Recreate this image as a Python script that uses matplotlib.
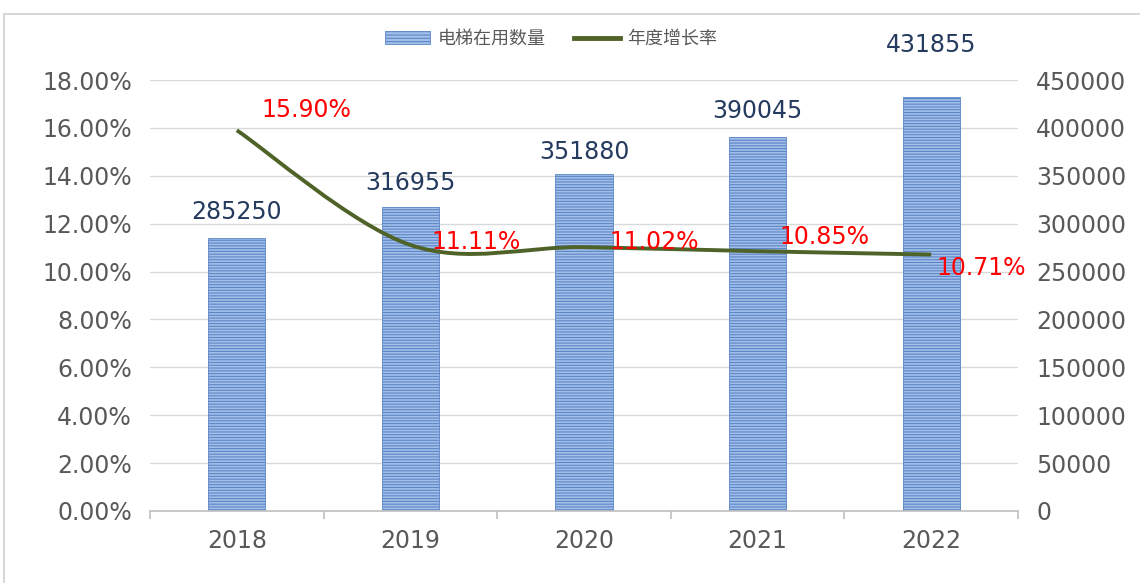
import matplotlib.pyplot as plt
import matplotlib.patches as mpatches
from matplotlib.lines import Line2D
from matplotlib.path import Path
import numpy as np

plt.rcParams['font.family'] = ['DejaVu Sans', 'Noto Sans CJK SC']
plt.rcParams['hatch.linewidth'] = 0.8

years = ['2018', '2019', '2020', '2021', '2022']
elevators = [285250, 316955, 351880, 390045, 431855]
growth = [15.90, 11.11, 11.02, 10.85, 10.71]
growth_labels = ['15.90%', '11.11%', '11.02%', '10.85%', '10.71%']
label_offsets = [(0.144, 0.85), (0.123, 0.12), (0.149, 0.21), (0.128, 0.59), (0.032, -0.56)]
bar_label_gap = [26, 24, 22, 26, 52]   # pixels above the bar top

fig = plt.figure(figsize=(11.4, 5.83), dpi=100)
fig.patches.append(mpatches.Rectangle((4 / 1140, -0.01), 1.1, 1 - 14 / 583 + 0.01,
                                      transform=fig.transFigure, fill=False,
                                      edgecolor='#d0d0d0', linewidth=1.2))
ax = fig.add_axes([150 / 1140, 1 - 511 / 583, (1018 - 150) / 1140, (511 - 80) / 583])
ax2 = ax.twinx()

x = np.arange(len(years))
ax2.bar(x, elevators, width=0.33, facecolor='#a3bfe9', edgecolor='#5b86c6',
        hatch='------', linewidth=0.6, zorder=2)
for xi, v, gap in zip(x, elevators, bar_label_gap):
    ax2.annotate(str(v), (xi, v), xytext=(0, gap), textcoords='offset pixels',
                 ha='center', va='center', fontsize=17, color='#243a5e')

# smooth line (Catmull-Rom style bezier, like spreadsheet smoothing)
pts = np.column_stack([x, growth]).astype(float)
verts = [pts[0]]
codes = [Path.MOVETO]
t = 1 / 6
for i in range(len(pts) - 1):
    p0 = pts[i - 1] if i > 0 else pts[i]
    p1 = pts[i]
    p2 = pts[i + 1]
    p3 = pts[i + 2] if i + 2 < len(pts) else pts[i + 1]
    c1 = p1 + (p2 - p0) * t
    c2 = p2 - (p3 - p1) * t
    verts += [c1, c2, p2]
    codes += [Path.CURVE4] * 3
ax.add_patch(mpatches.PathPatch(Path(verts, codes), fill=False, edgecolor='#4f6228',
                                linewidth=2.8, zorder=5))
ax.set_zorder(ax2.get_zorder() + 1)
ax.patch.set_visible(False)
for xi, g, lab, (dx, dy) in zip(x, growth, growth_labels, label_offsets):
    ax.text(xi + dx, g + dy, lab, ha='left', va='center', fontsize=17, color='#ff0000', zorder=6)

ax.set_xlim(-0.5, 4.5)
ax.set_ylim(0, 18)
ax2.set_ylim(0, 450000)
ax.set_yticks(np.arange(0, 18.1, 2))
ax.set_yticklabels([f'{v:.2f}%' for v in np.arange(0, 18.1, 2)])
ax2.set_yticks(np.arange(0, 450001, 50000))
ax2.set_yticklabels([str(v) for v in range(0, 450001, 50000)])
ax.set_xticks(x)
ax.set_xticklabels(years)
ax.set_xticks(np.arange(-0.5, 4.6, 1), minor=True)

ax2.grid(False)
for v in np.arange(2, 18.1, 2):
    ax2.axhline(v * 25000, color='#d9d9d9', linewidth=1, zorder=0)

for a in (ax, ax2):
    for s in ('top', 'left', 'right'):
        a.spines[s].set_visible(False)
    a.tick_params(axis='y', length=0, labelsize=17, labelcolor='#595959', pad=13)
ax2.spines['bottom'].set_visible(False)
ax.spines['bottom'].set_color('#bfbfbf')
ax.spines['bottom'].set_linewidth(1.2)
ax.tick_params(axis='x', which='major', length=0, labelsize=17, labelcolor='#595959', pad=13)
ax.tick_params(axis='x', which='minor', length=6, color='#bfbfbf', width=1.2)

handles = [mpatches.Patch(facecolor='#a3bfe9', edgecolor='#5b86c6', hatch='-----', linewidth=0.6),
           Line2D([0], [0], color='#4f6228', linewidth=3.5)]
fig.legend(handles, ['电梯在用数量', '年度增长率'], loc='center', bbox_to_anchor=(551 / 1140, 1 - 39 / 583),
           ncol=2, frameon=False, prop={'family': ['Noto Sans CJK SC'], 'size': 13},
           labelcolor='#595959', handlelength=2.5, columnspacing=1.6, handletextpad=0.4)

fig.savefig('out.png', dpi=100)
